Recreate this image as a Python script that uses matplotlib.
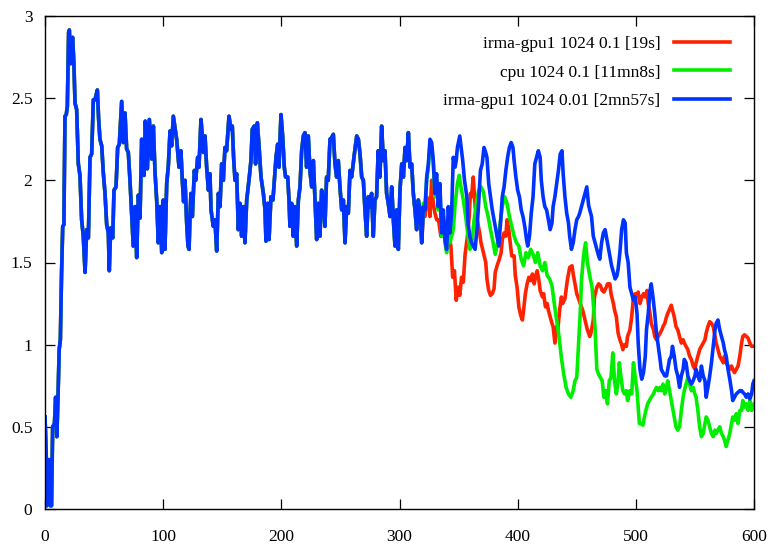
import matplotlib
matplotlib.use("Agg")
import matplotlib.pyplot as plt

labels = ["irma-gpu1 1024 0.1 [19s]", "cpu 1024 0.1 [11mn8s]", "irma-gpu1 1024 0.01 [2mn57s]"]
colors = ["#ff2200", "#00ee00", "#0033ff"]

# common part of all three runs (they overlap up to x ~ 319)
shared_x = [0, 1, 1.5, 2.5, 3.5, 4.5, 5.5, 6.5, 8, 9, 10, 11, 12, 13, 14, 15, 16, 16.9, 18, 18.9,
            20, 20.6, 21.7, 22.5, 23.4, 24.5, 25.4, 26.8, 28.2, 29.6, 31, 32.4, 33.9, 35.3, 36.7,
            38.1, 39.5, 40.9, 42.3, 44.3, 45.4, 46.5, 48, 49.3, 50.8, 52.2, 53.6, 54.4, 55.6, 57.3,
            58.4, 60.1, 61.5, 62.9, 64.9, 66.3, 67.7, 69.1, 70.5, 71.9, 73.4, 74.7, 76.2, 77.6, 79,
            80.4, 81.8, 83.8, 84.9, 86.6, 88.3, 90.3, 91.7, 93.1, 94.5, 95.9, 97.3, 98.8, 100.1,
            101.5, 103, 104.4, 105.8, 107.2, 108.6, 111.4, 113.4, 115, 116.2, 117.3, 118.5, 119.9,
            121, 121.9, 122.7, 123.5, 124.7, 126.4, 127.5, 129.2, 130.3, 132, 133.1, 134, 135.4,
            136.8, 138.3, 139.6, 140.5, 142.4, 143.8, 145.3, 146.7, 148.1, 149.5, 150.9, 152.3,
            153.7, 155.7, 157.4, 158.5, 159.6, 160.8, 162.2, 163.6, 165, 166.4, 167.8, 169.2, 170.7,
            172.6, 174.3, 175.4, 177.1, 178.2, 179.7, 181.1, 182.8, 184.8, 186.2, 187, 188.4, 189.6,
            191.2, 192.9, 194.1, 195.5, 196.9, 198, 199.7, 201.1, 202.5, 203.6, 205.4, 206.5, 207.3,
            208.7, 210.1, 211.5, 213, 214.4, 215.8, 217.2, 218.6, 220, 221.4, 222.8, 224.3, 225.7,
            227.1, 228.5, 229.9, 231.3, 232.7, 234.1, 235.5, 236.9, 238.3, 239.7, 241.2, 242.6, 244,
            245.4, 246.8, 248.2, 249.6, 251.1, 252.5, 253.9, 255.3, 256.7, 258.1, 259.5, 261.8,
            263.8, 265.2, 266.6, 268, 269.4, 270.8, 272.2, 273.6, 275, 276.4, 277.8, 279.2, 280.6,
            282, 283.4, 284.9, 286.3, 287.7, 289.1, 290.5, 292, 293.4, 294.8, 296.2, 297.6, 299,
            300.4, 301.9, 303.3, 304.7, 306.1, 307.5, 308.9, 310.3, 311.7, 313.1, 314.5, 315.9,
            317.4, 318.8]
shared_y = [0.56, 0.35, 0.02, 0.30, 0.30, 0.02, 0.02, 0.50, 0.52, 0.68, 0.44, 0.68, 0.97, 1.03, 1.43,
            1.72, 1.73, 2.39, 2.40, 2.45, 2.90, 2.915, 2.71, 2.85, 2.87, 2.70, 2.47, 2.43, 2.10, 2.03,
            1.76, 1.66, 1.44, 1.70, 1.65, 2.14, 2.16, 2.49, 2.49, 2.55, 2.37, 2.25, 2.21, 2.05, 1.92,
            1.73, 1.68, 1.45, 1.71, 1.65, 1.94, 1.96, 2.20, 2.22, 2.48, 2.23, 2.41, 2.19, 2.17, 2.00,
            1.78, 1.60, 1.84, 1.53, 1.91, 1.77, 2.25, 2.03, 2.36, 2.07, 2.37, 2.13, 2.33, 2.05, 1.88,
            1.62, 1.84, 1.56, 1.88, 1.58, 1.98, 2.09, 2.30, 2.21, 2.39, 2.25, 2.08, 2.18, 2.00, 1.87,
            2.00, 1.74, 1.60, 1.58, 1.78, 1.92, 1.78, 2.06, 2.00, 2.14, 2.08, 2.37, 2.27, 2.17, 2.27,
            2.08, 1.94, 2.04, 1.82, 1.72, 1.76, 1.57, 1.92, 1.84, 2.10, 2.00, 2.20, 2.18, 2.39, 2.31,
            2.33, 2.14, 2.00, 2.04, 1.70, 1.86, 1.66, 1.84, 1.62, 1.88, 2.00, 2.12, 2.31, 2.33, 2.10,
            2.35, 2.21, 2.02, 1.92, 1.82, 1.63, 1.86, 1.64, 1.90, 1.88, 2.00, 2.14, 2.22, 2.08, 2.40,
            2.27, 2.08, 2.02, 2.02, 1.88, 1.72, 1.86, 1.66, 1.84, 1.60, 1.88, 1.96, 2.18, 2.27, 2.29,
            2.08, 2.27, 2.05, 1.96, 2.12, 1.88, 1.64, 1.86, 1.66, 1.94, 1.88, 1.72, 2.02, 2.00, 2.25,
            2.26, 2.28, 2.10, 2.02, 2.12, 1.96, 1.82, 1.88, 1.62, 1.84, 1.80, 2.06, 2.02, 2.16, 2.27,
            2.25, 2.16, 2.02, 2.00, 1.82, 1.66, 1.90, 1.84, 1.92, 1.66, 1.88, 1.90, 2.18, 2.02, 2.33,
            2.12, 2.18, 1.92, 1.86, 1.78, 1.96, 1.76, 1.60, 1.82, 1.58, 1.94, 2.10, 2.02, 2.20, 2.12,
            2.29, 2.08, 2.10, 1.92, 1.82, 1.70, 1.88, 1.82, 1.62]

red_tail_x = [320.2, 321.6, 323, 324.4, 325.8, 327.2, 328.6, 330, 331.5, 333, 335, 336.5, 338, 339.5,
              341, 342.5, 343.5, 345, 346.5, 348, 349.5, 351, 352.5, 354, 355.5, 357.5, 359, 360, 361,
              362.4, 364, 366, 367.8, 369, 371, 373, 374, 375.5, 377, 378.5, 380, 381, 383, 384.5, 386,
              387, 388.5, 390, 391, 392.5, 394, 395, 397, 398, 399.5, 401, 402.5, 404, 405, 406.5, 408,
              409.5, 411, 412.5, 414, 415, 416.5, 418, 419, 421, 422, 423.5, 425, 426, 427.5, 429, 430,
              431.5, 433, 434, 435.5, 437, 438, 440, 442, 444, 446, 447, 448.5, 450, 452, 453, 455, 457,
              459, 461, 462, 464, 465, 467, 468.5, 470, 471.5, 473, 475, 476, 478, 479, 481, 482, 483.5,
              485, 486.5, 488, 489, 490.5, 492, 493, 495, 496.5, 498, 499.5, 501, 502, 503.5, 505,
              506.5, 508, 509.5, 510.5, 512, 513, 515, 516, 517.5, 519, 520.5, 522, 523, 524.5, 526,
              527, 530, 531, 532.5, 534, 535.5, 537, 538.5, 540, 541, 542.5, 544, 545.5, 547, 548.5,
              550, 551, 552.5, 554, 555.5, 557, 558.5, 559.5, 561, 562.5, 564, 565.5, 567, 568, 569.5,
              571, 572.5, 574, 575, 576.5, 578, 579.5, 581, 582, 583.5, 585, 586.5, 588, 589.5, 590.5,
              592, 593.5, 595, 596.5, 598, 600]
red_tail_y = [1.80, 1.78, 1.90, 1.88, 1.78, 2.00, 1.86, 1.80, 1.76, 1.76, 1.66, 1.72, 1.68, 1.64, 1.66,
              1.64, 1.60, 1.41, 1.45, 1.27, 1.35, 1.30, 1.41, 1.38, 1.55, 1.66, 1.78, 1.92, 1.90, 2.02,
              1.84, 1.75, 1.68, 1.62, 1.56, 1.50, 1.40, 1.33, 1.30, 1.31, 1.34, 1.44, 1.49, 1.52, 1.56,
              1.64, 1.68, 1.66, 1.76, 1.70, 1.60, 1.54, 1.54, 1.42, 1.35, 1.23, 1.18, 1.15, 1.21, 1.31,
              1.37, 1.41, 1.39, 1.43, 1.37, 1.41, 1.45, 1.39, 1.33, 1.29, 1.31, 1.23, 1.25, 1.21, 1.17,
              1.13, 1.11, 1.01, 1.11, 1.09, 1.21, 1.29, 1.25, 1.28, 1.39, 1.47, 1.48, 1.43, 1.37, 1.31,
              1.27, 1.25, 1.21, 1.15, 1.09, 1.05, 1.07, 1.15, 1.29, 1.35, 1.37, 1.36, 1.33, 1.32, 1.35,
              1.37, 1.37, 1.31, 1.25, 1.21, 1.17, 1.07, 1.03, 1.00, 0.97, 1.00, 0.99, 1.05, 1.09, 1.17,
              1.29, 1.31, 1.30, 1.32, 1.25, 1.29, 1.31, 1.29, 1.33, 1.25, 1.19, 1.13, 1.09, 1.05, 1.03,
              1.05, 1.07, 1.09, 1.11, 1.13, 1.17, 1.19, 1.24, 1.21, 1.17, 1.11, 1.09, 1.05, 1.01, 1.03,
              1.01, 0.99, 0.97, 0.93, 0.91, 0.87, 0.85, 0.89, 0.93, 0.97, 0.99, 1.01, 1.03, 1.07, 1.11,
              1.14, 1.13, 1.11, 1.05, 1.01, 0.97, 0.93, 0.91, 0.89, 0.93, 0.89, 0.87, 0.85, 0.87, 0.85,
              0.83, 0.85, 0.87, 0.93, 1.01, 1.05, 1.06, 1.05, 1.04, 1.01, 0.99, 0.99]

green_tail_x = [320.2, 321.6, 323, 324.4, 325.8, 327.2, 328.6, 330, 331.4, 332.8, 334.2, 335.7, 337.1,
                338.5, 339.9, 341.3, 342.7, 344.1, 345.5, 347, 349, 350.5, 352, 354, 356, 358, 359.5,
                361, 363, 365, 367, 369, 371, 373, 375, 377, 379, 381, 383, 385, 387, 389, 391, 393,
                395, 397, 399, 401, 403, 405, 407, 409, 411, 413, 415, 417, 419, 421, 423, 425, 427,
                429, 431, 433, 435, 437, 439, 441, 443, 445, 447, 448.5, 450, 451, 453, 454, 455.5,
                456.5, 457.5, 459, 460, 461.5, 463, 464, 465.5, 467, 468.5, 470, 471.5, 473, 474.5,
                476, 477.5, 479, 480.5, 482, 483.5, 485, 486, 487.5, 489, 490.5, 492, 493, 495, 496.5,
                498, 499.5, 501, 503, 504.5, 506, 507, 508.5, 510, 511.5, 513, 515, 516, 517.5, 519,
                520.5, 521.5, 523, 524.5, 526, 527, 528.5, 530, 531, 532.5, 534, 535.5, 537, 538.5,
                540, 541, 542.5, 544, 545.5, 547, 548.5, 550, 551, 552.5, 554, 555.5, 557, 558.5,
                559.5, 561, 562.5, 564, 565.5, 567, 568, 569.5, 571, 572.5, 574, 575, 576.5, 578,
                579.5, 581, 582, 583.5, 585, 586.5, 588, 589.5, 590.5, 592, 593.5, 595, 596.5, 598, 600]
green_tail_y = [1.86, 1.84, 2.00, 2.08, 2.22, 2.20, 2.10, 1.90, 2.00, 1.82, 1.94, 1.66, 1.78, 1.62,
                1.56, 1.70, 1.62, 1.66, 1.70, 1.85, 1.98, 2.03, 1.96, 1.88, 1.78, 1.66, 1.58, 1.60,
                1.75, 1.86, 1.94, 1.96, 1.93, 1.84, 1.78, 1.70, 1.63, 1.55, 1.62, 1.73, 1.84, 1.90,
                1.86, 1.78, 1.72, 1.66, 1.62, 1.60, 1.52, 1.48, 1.56, 1.53, 1.58, 1.55, 1.50, 1.56,
                1.48, 1.45, 1.50, 1.42, 1.40, 1.36, 1.25, 1.15, 1.05, 0.92, 0.82, 0.74, 0.70, 0.68,
                0.72, 0.78, 0.80, 0.93, 1.20, 1.39, 1.52, 1.58, 1.62, 1.50, 1.46, 1.40, 1.35, 1.25,
                1.10, 0.85, 0.82, 0.80, 0.78, 0.68, 0.72, 0.64, 0.78, 0.80, 0.95, 0.78, 0.70, 0.78,
                0.89, 0.80, 0.72, 0.70, 0.72, 0.66, 0.72, 0.70, 0.89, 0.80, 0.72, 0.52, 0.52, 0.51,
                0.55, 0.60, 0.64, 0.66, 0.68, 0.70, 0.72, 0.74, 0.72, 0.74, 0.72, 0.76, 0.70, 0.74,
                0.78, 0.72, 0.66, 0.62, 0.56, 0.50, 0.48, 0.50, 0.60, 0.68, 0.72, 0.76, 0.80, 0.76,
                0.72, 0.74, 0.70, 0.68, 0.60, 0.50, 0.44, 0.46, 0.52, 0.56, 0.54, 0.50, 0.46, 0.44,
                0.48, 0.46, 0.48, 0.50, 0.46, 0.44, 0.42, 0.38, 0.42, 0.46, 0.52, 0.56, 0.54, 0.58,
                0.52, 0.60, 0.60, 0.66, 0.62, 0.64, 0.60, 0.66, 0.60, 0.64]

blue_tail_x = [320.2, 321.6, 323, 324.4, 325.8, 327.2, 328.6, 330, 331.4, 332.8, 334.2, 335.7, 337.1,
               338.5, 339.9, 341.3, 342.7, 344.1, 345.5, 347, 348, 349, 351, 352, 353.5, 355, 357, 358,
               359.5, 361, 362.5, 364, 365.5, 367, 368.5, 370, 371.5, 372.5, 374, 375.5, 377, 378.5,
               380, 381.5, 383, 384, 385.5, 387, 388.5, 390, 391.5, 393, 394.5, 396, 397, 398.5, 400,
               401.5, 403, 404.5, 406, 407.5, 408.5, 410, 411.5, 413, 414.5, 416, 417.5, 419, 420,
               421.5, 423, 424.5, 426, 427.5, 429, 430, 431.5, 433, 434.5, 436, 437.5, 438.5, 440,
               441.5, 443, 444, 445.5, 447, 448.5, 450, 451.5, 452.5, 454, 455.5, 457, 458.5, 460, 461,
               462.5, 464, 465.5, 467, 468.5, 469.5, 471, 472.5, 474, 475.5, 477, 478.5, 479.5, 481,
               482.5, 484, 485, 486.5, 488, 489.5, 491, 492, 493.5, 495, 496.5, 498, 499.5, 501, 502,
               503.5, 505, 506.5, 508, 509, 510.5, 512, 513, 514.5, 516, 517.5, 519, 520.5, 521.5, 523,
               524.5, 526, 527, 528.5, 530, 531, 532.5, 534, 535.5, 537, 538.5, 540, 541, 542.5, 544,
               545.5, 547, 548.5, 550, 551, 552.5, 554, 555.5, 557, 558.5, 559.5, 561, 562.5, 564,
               565.5, 567, 568, 569.5, 571, 572.5, 574, 575, 576.5, 578, 579.5, 581, 582, 583.5, 585,
               586.5, 588, 589.5, 590.5, 592, 593.5, 595, 596.5, 598, 599, 600]
blue_tail_y = [1.84, 1.82, 2.02, 2.10, 2.25, 2.23, 2.12, 1.92, 2.04, 1.84, 1.98, 1.68, 1.82, 1.64, 1.58,
               1.84, 1.68, 1.80, 2.14, 2.08, 2.12, 2.20, 2.27, 2.21, 2.12, 2.00, 1.90, 1.74, 1.66, 1.62,
               1.60, 1.58, 1.70, 1.86, 2.06, 2.10, 2.20, 2.18, 2.14, 1.98, 1.90, 1.82, 1.76, 1.70, 1.64,
               1.60, 1.74, 1.90, 1.96, 2.06, 2.14, 2.20, 2.23, 2.20, 2.12, 2.02, 1.94, 1.90, 1.82, 1.78,
               1.72, 1.64, 1.60, 1.66, 1.80, 1.90, 2.10, 2.14, 2.18, 2.14, 2.00, 1.90, 1.84, 1.82, 1.76,
               1.70, 1.74, 1.84, 1.90, 1.98, 2.06, 2.16, 2.18, 2.04, 1.90, 1.80, 1.74, 1.66, 1.58, 1.62,
               1.70, 1.76, 1.78, 1.80, 1.84, 1.88, 1.92, 1.96, 1.85, 1.82, 1.78, 1.66, 1.62, 1.58, 1.54,
               1.52, 1.62, 1.68, 1.70, 1.64, 1.58, 1.52, 1.48, 1.44, 1.40, 1.42, 1.46, 1.56, 1.70, 1.76,
               1.74, 1.56, 1.50, 1.35, 1.31, 1.27, 1.29, 1.19, 1.01, 0.85, 0.79, 0.83, 0.93, 1.09, 1.19,
               1.33, 1.37, 1.29, 1.19, 1.07, 0.99, 0.91, 0.85, 0.83, 0.81, 0.81, 0.85, 0.91, 0.93, 0.99,
               0.93, 0.85, 0.81, 0.74, 0.81, 0.85, 0.91, 0.89, 0.81, 0.78, 0.76, 0.78, 0.81, 0.85, 0.81,
               0.78, 0.87, 0.81, 0.78, 0.68, 0.74, 0.81, 0.89, 0.99, 1.09, 1.13, 1.15, 1.09, 1.05, 1.01,
               0.97, 0.93, 0.85, 0.79, 0.72, 0.66, 0.68, 0.70, 0.71, 0.72, 0.72, 0.71, 0.70, 0.68, 0.70,
               0.67, 0.70, 0.76, 0.78]

x_ticks = [0, 100, 200, 300, 400, 500, 600]
y_ticks = [0, 0.5, 1, 1.5, 2, 2.5, 3]
y_tick_labels = ["0", "0.5", "1", "1.5", "2", "2.5", "3"]

plt.rcParams["font.family"] = ["Liberation Serif", "DejaVu Serif"]

fig = plt.figure(figsize=(7.71, 5.45), dpi=100)
ax = fig.add_axes([45 / 771, 36 / 545, 709 / 771, 493 / 545])

series = [
    (shared_x + red_tail_x, shared_y + red_tail_y),
    (shared_x + green_tail_x, shared_y + green_tail_y),
    (shared_x + blue_tail_x, shared_y + blue_tail_y),
]
for (xs, ys), c, lab in zip(series, colors, labels):
    ax.plot(xs, ys, color=c, lw=2.6, label=lab, solid_joinstyle="round")

ax.set_xlim(0, 600)
ax.set_ylim(0, 3)
ax.set_xticks(x_ticks)
ax.set_xticklabels([str(v) for v in x_ticks])
ax.set_yticks(y_ticks)
ax.set_yticklabels(y_tick_labels)
ax.tick_params(direction="in", length=7, width=0.9, top=True, right=True,
               labelsize=12.5, colors="black")
ax.tick_params(axis="x", pad=14.5)
ax.tick_params(axis="y", pad=9)
for s in ax.spines.values():
    s.set_linewidth(1.0)
    s.set_color("black")

leg = ax.legend(loc="upper right", bbox_to_anchor=(0.966, 0.960), frameon=False,
                markerfirst=False, fontsize=12.5, handlelength=3.2, handletextpad=0.8,
                labelspacing=0.72, borderpad=0, borderaxespad=0)
for col in leg._legend_handle_box.get_children():
    col.align = "right"

fig.savefig("out.png", dpi=100)
